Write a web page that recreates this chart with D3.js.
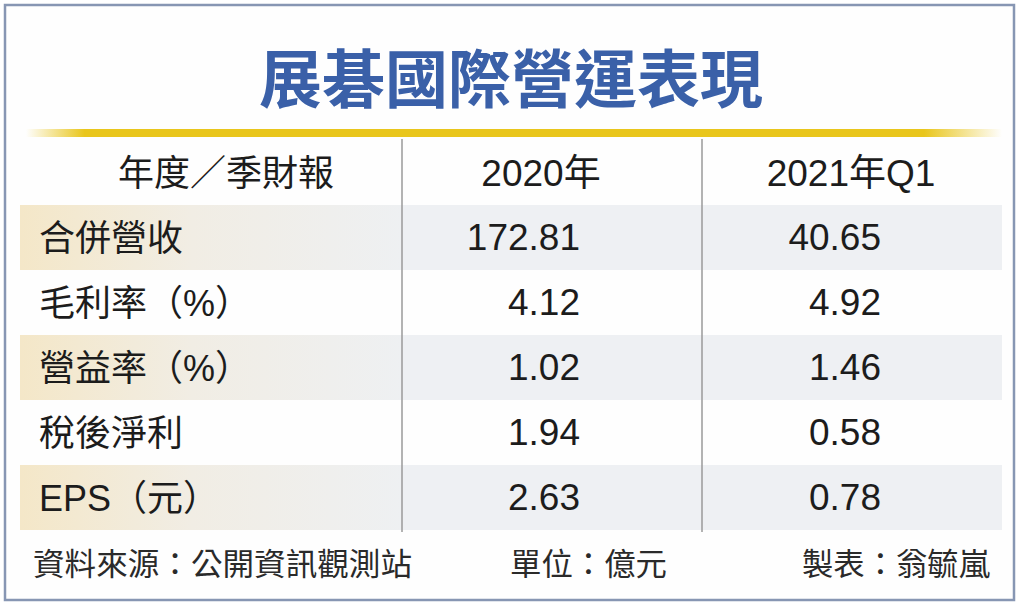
<!DOCTYPE html>
<html>
<head>
<meta charset="utf-8">
<script src="https://cdn.jsdelivr.net/npm/d3@7"></script>
<style>
  html, body { margin: 0; padding: 0; background: #ffffff; }
  svg { display: block; }
</style>
</head>
<body>
<svg id="chart" width="1024" height="609"></svg>
<script>
// ---- data ----
const title = "展碁國際營運表現";
const headerLabel = "年度／季財報";
const periods = ["2020年", "2021年Q1"];
const categories = ["合併營收", "毛利率（%）", "營益率（%）", "稅後淨利", "EPS（元）"];
const values2020 = [172.81, 4.12, 1.02, 1.94, 2.63];
const values2021Q1 = [40.65, 4.92, 1.46, 0.58, 0.78];
const footerSource = "資料來源：公開資訊觀測站";
const footerUnit = "單位：億元";
const footerAuthor = "製表：翁毓嵐";

// ---- layout ----
const W = 1024, H = 609;
const svg = d3.select("#chart");
const FONT = "'Liberation Sans', 'Noto Sans CJK TC', sans-serif";
const CJK = "'Noto Sans CJK TC', sans-serif";

const defs = svg.append("defs");
const gold = defs.append("linearGradient").attr("id", "gold")
  .attr("x1", "0%").attr("x2", "100%");
gold.append("stop").attr("offset", "0%").attr("stop-color", "#e9c61c").attr("stop-opacity", 0);
gold.append("stop").attr("offset", "6%").attr("stop-color", "#e9c61c").attr("stop-opacity", 1);
gold.append("stop").attr("offset", "92%").attr("stop-color", "#e9c61c").attr("stop-opacity", 1);
gold.append("stop").attr("offset", "100%").attr("stop-color", "#e9c61c").attr("stop-opacity", 0);

const beige = defs.append("linearGradient").attr("id", "beige")
  .attr("x1", "0%").attr("x2", "100%");
beige.append("stop").attr("offset", "0%").attr("stop-color", "#f4e7c8");
beige.append("stop").attr("offset", "45%").attr("stop-color", "#f1ede4");
beige.append("stop").attr("offset", "100%").attr("stop-color", "#eef0f2");

// frame
svg.append("rect").attr("x", 0).attr("y", 0).attr("width", W).attr("height", H).attr("fill", "#ffffff");
svg.append("rect").attr("x", 5).attr("y", 5).attr("width", 1009).attr("height", 595)
  .attr("fill", "#fefefe").attr("stroke", "#8796b3").attr("stroke-width", 2.5);

// title
svg.append("text").attr("x", 511).attr("y", 74)
  .attr("text-anchor", "middle").attr("dominant-baseline", "central")
  .attr("font-family", CJK).attr("font-weight", 700).attr("font-size", 63)
  .attr("fill", "#3a60a8").text(title);

// gold rule
svg.append("rect").attr("x", 26).attr("y", 129).attr("width", 976).attr("height", 8)
  .attr("fill", "url(#gold)");

// scales
const rows = [headerLabel].concat(categories);
const y = d3.scaleBand().domain(rows).range([140, 530]).paddingInner(0).paddingOuter(0);

const colKeys = ["label"].concat(periods);
const colLeft = d3.scaleOrdinal().domain(colKeys).range([20, 402, 702]);
const colRight = d3.scaleOrdinal().domain(colKeys).range([402, 702, 1002]);
const headerCenter = d3.scaleOrdinal().domain(periods).range([541, 851]);
const valueRight = d3.scaleOrdinal().domain(periods).range([580, 881]);

const series = { "2020年": values2020, "2021年Q1": values2021Q1 };
const fmt = d3.format(".2f");

// shaded rows
const shaded = categories.filter((d, i) => i % 2 === 0);
const bandG = svg.append("g");
shaded.forEach(cat => {
  bandG.append("rect")
    .attr("x", colLeft("label")).attr("y", y(cat))
    .attr("width", colRight("label") - colLeft("label")).attr("height", y.bandwidth())
    .attr("fill", "url(#beige)");
  periods.forEach(p => {
    bandG.append("rect")
      .attr("x", colLeft(p)).attr("y", y(cat))
      .attr("width", colRight(p) - colLeft(p)).attr("height", y.bandwidth())
      .attr("fill", "#eef0f3");
  });
});

// vertical dividers
periods.forEach(p => {
  svg.append("line")
    .attr("x1", colLeft(p)).attr("x2", colLeft(p))
    .attr("y1", 139).attr("y2", 532)
    .attr("stroke", "#9a9a9a").attr("stroke-width", 1.5);
});

const textColor = "#1c1c1c";

// header row
svg.append("text").attr("x", 226).attr("y", y(headerLabel) + y.bandwidth() / 2 + 1)
  .attr("text-anchor", "middle").attr("dominant-baseline", "central")
  .attr("font-family", FONT).attr("font-size", 36).attr("fill", textColor)
  .text(headerLabel);
svg.selectAll("text.ph").data(periods).enter().append("text")
  .attr("class", "ph")
  .attr("x", d => headerCenter(d)).attr("y", y(headerLabel) + y.bandwidth() / 2 + 1)
  .attr("text-anchor", "middle").attr("dominant-baseline", "central")
  .attr("font-family", FONT).attr("font-size", 37).attr("fill", textColor)
  .text(d => d);

// row labels
svg.selectAll("text.lab").data(categories).enter().append("text")
  .attr("class", "lab")
  .attr("x", 39).attr("y", d => y(d) + y.bandwidth() / 2 + 1)
  .attr("dominant-baseline", "central")
  .attr("font-family", FONT).attr("font-size", 36).attr("fill", textColor)
  .text(d => d);

// values
periods.forEach(p => {
  svg.selectAll(null).data(series[p]).enter().append("text")
    .attr("x", valueRight(p))
    .attr("y", (d, i) => y(categories[i]) + y.bandwidth() / 2)
    .attr("text-anchor", "end").attr("dominant-baseline", "central")
    .attr("font-family", FONT).attr("font-size", 37).attr("fill", textColor)
    .text(d => fmt(d));
});

// footer
const fy = 561;
svg.append("text").attr("x", 33).attr("y", fy).attr("dominant-baseline", "central")
  .attr("font-family", CJK).attr("font-size", 31).attr("fill", "#2a2a2a")
  .attr("textLength", 379).attr("lengthAdjust", "spacingAndGlyphs").text(footerSource);
svg.append("text").attr("x", 510).attr("y", fy).attr("dominant-baseline", "central")
  .attr("font-family", CJK).attr("font-size", 31).attr("fill", "#2a2a2a")
  .attr("textLength", 157).attr("lengthAdjust", "spacingAndGlyphs").text(footerUnit);
svg.append("text").attr("x", 802).attr("y", fy).attr("dominant-baseline", "central")
  .attr("font-family", CJK).attr("font-size", 31).attr("fill", "#2a2a2a")
  .attr("textLength", 188).attr("lengthAdjust", "spacingAndGlyphs").text(footerAuthor);
</script>
</body>
</html>
